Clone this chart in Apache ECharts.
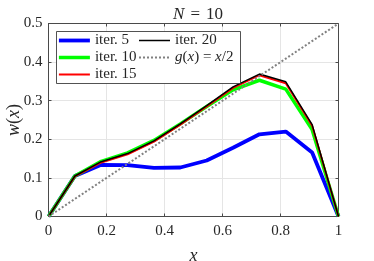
<!DOCTYPE html>
<html><head><meta charset="utf-8">
<script src="https://cdn.jsdelivr.net/npm/echarts@6/dist/echarts.min.js"></script>
<style>html,body{margin:0;padding:0;background:#fff}#c{width:374px;height:261px}</style>
</head><body><div id="c"></div>
<script>
const xs = [0, 0.0909, 0.1818, 0.2727, 0.3636, 0.4545, 0.5455, 0.6364, 0.7273, 0.8182, 0.9091, 1];
const iter5 = [0, 0.105, 0.134, 0.133, 0.126, 0.127, 0.145, 0.178, 0.213, 0.220, 0.166, 0];
const iter10 = [0, 0.105, 0.143, 0.165, 0.197, 0.240, 0.285, 0.328, 0.353, 0.330, 0.225, 0];
const iter15 = [0, 0.104, 0.140, 0.161, 0.194, 0.238, 0.285, 0.333, 0.366, 0.345, 0.235, 0];
const iter20 = [0, 0.105, 0.142, 0.163, 0.196, 0.240, 0.287, 0.336, 0.369, 0.349, 0.238, 0];
const gX = [0, 1];
const gY = [0, 0.5];
const seriesNames = ['iter. 5', 'iter. 10', 'iter. 15', 'iter. 20', 'g'];
const titleText = '{i|N}{e|=}10';

const FONT = 'Liberation Serif';
const TXT = '#262626';
const pairs = (xa, ya) => xa.map((x, i) => [x, ya[i]]);
const axisCol = '#4a4a4a';
const colors = ['#0000ff', '#00ff00', '#ff0000', '#000000', '#808080'];
const widths = [3.8, 3.5, 2, 1.5, 2];

function mkX(pos, showLabel) {
  return {
    type: 'value', min: 0, max: 1, interval: 0.2, position: pos,
    axisLine: { show: true, onZero: false, lineStyle: { color: axisCol, width: 1 } },
    axisTick: { show: true, inside: true, length: 3, lineStyle: { color: axisCol } },
    axisLabel: { show: showLabel, color: TXT, fontFamily: FONT, fontSize: 15, margin: 7 },
    splitLine: { show: showLabel, lineStyle: { color: '#e5e5e5', width: 1 } },
    name: showLabel ? 'x' : '', nameLocation: 'middle', nameGap: 31, nameMoveOverlap: false,
    nameTextStyle: { fontFamily: FONT, fontStyle: 'italic', fontSize: 18, color: TXT }
  };
}
function mkY(pos, showLabel) {
  return {
    type: 'value', min: 0, max: 0.5, interval: 0.1, position: pos,
    axisLine: { show: true, onZero: false, lineStyle: { color: axisCol, width: 1 } },
    axisTick: { show: true, inside: true, length: 3, lineStyle: { color: axisCol } },
    axisLabel: { show: showLabel, color: TXT, fontFamily: FONT, fontSize: 15, margin: 6 },
    splitLine: { show: showLabel, lineStyle: { color: '#e5e5e5', width: 1 } },
    name: showLabel ? '{i|w}({i|x})' : '', nameLocation: 'middle', nameGap: 25, nameRotate: 90,
    nameMoveOverlap: false,
    nameTextStyle: { fontFamily: FONT, fontSize: 18, color: TXT,
      rich: { i: { fontFamily: FONT, fontStyle: 'italic', fontSize: 18, color: TXT } } }
  };
}
const legendText = {
  fontFamily: FONT, fontSize: 15, color: TXT,
  rich: { i: { fontFamily: FONT, fontStyle: 'italic', fontSize: 15, color: TXT } }
};
const legendCommon = {
  orient: 'vertical', top: 33, itemWidth: 31, itemHeight: 14, itemGap: 2,
  textStyle: legendText, padding: 0, itemStyle: { opacity: 0, borderWidth: 0 }
};
const legendItem = i => ({ name: seriesNames[i], lineStyle: { width: widths[i], color: colors[i], type: i === 4 ? [2, 2] : 'solid' } });
const chart = echarts.init(document.getElementById('c'));
chart.setOption({
  animation: false,
  backgroundColor: '#fff',
  title: {
    text: titleText, left: 193, top: 1, textAlign: 'center',
    textStyle: { fontFamily: FONT, fontSize: 17, fontWeight: 'normal', color: TXT,
      rich: { i: { fontFamily: FONT, fontStyle: 'italic', fontSize: 17, color: TXT },
              e: { fontFamily: FONT, fontSize: 17, color: TXT, padding: [0, 6, 0, 6] } } }
  },
  grid: { left: 48.5, right: 35.5, top: 23.5, bottom: 44.5, outerBoundsMode: 'none', containLabel: false },
  xAxis: [mkX('bottom', true), mkX('top', false)],
  yAxis: [mkY('left', true), mkY('right', false)],
  graphic: [{
    type: 'rect', z: 3, shape: { x: 56.5, y: 31.5, width: 184, height: 52 },
    style: { fill: '#fff', stroke: '#262626', lineWidth: 0.8 }
  }],
  legend: [
    Object.assign({ data: [0, 1, 2].map(legendItem), left: 57 }, legendCommon),
    Object.assign({ data: [3, 4].map(legendItem), left: 138,
      formatter: n => n === 'g' ? '{i|g}({i|x}) = {i|x}/2' : n }, legendCommon)
  ],
  series: seriesNames.map((n, i) => ({
    name: n, type: 'line', data: i < 4 ? pairs(xs, [iter5, iter10, iter15, iter20][i]) : pairs(gX, gY),
    symbol: 'none', z: 2,
    lineStyle: { color: colors[i], width: widths[i], type: i === 4 ? [2, 2] : 'solid' },
    itemStyle: { color: colors[i] }
  }))
});
</script></body></html>
